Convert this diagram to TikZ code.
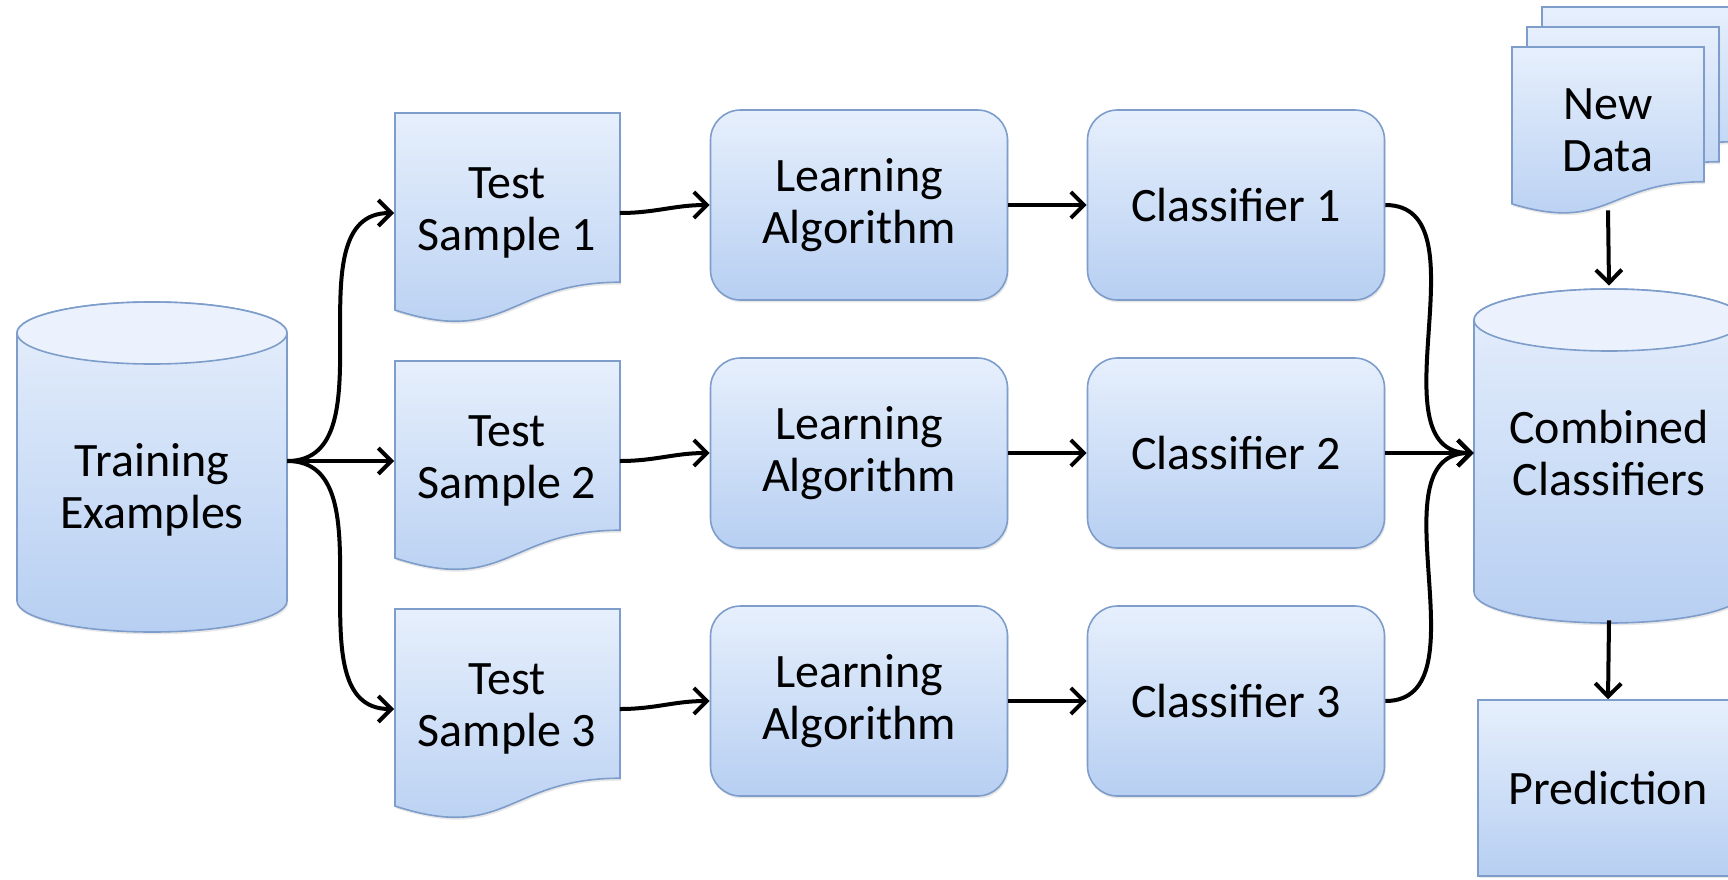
\documentclass[tikz,border=0pt]{standalone}
\usepackage{fontspec}
\setmainfont{Carlito}
\usetikzlibrary{arrows.meta,shadows}

\definecolor{boxtop}{HTML}{E6EFFC}
\definecolor{boxbot}{HTML}{B7CFF2}
\definecolor{boxline}{HTML}{7E9DCA}
\definecolor{captop}{HTML}{EBF2FD}

\tikzset{
  shapefill/.style={draw=boxline, line width=0.8pt, top color=boxtop, bottom color=boxbot,
    drop shadow={opacity=0.18, shadow xshift=0.6pt, shadow yshift=-1.2pt}},
  txt/.style={font=\fontsize{24}{26}\selectfont, align=center, inner sep=0pt},
  box/.style={shapefill, txt, rounded corners=15pt, minimum width=148.5pt, minimum height=95pt},
  flow/.style={line width=2pt, -{Straight Barb[length=6.5pt,width=13pt]}}
}

% x, y (top), width, height
\newcommand{\docshape}[4]{%
  \path[shapefill] (#1,#2) -- ({#1+#3},#2) -- ({#1+#3},{#2+0.802*#4})
    .. controls ({#1+0.5*#3},{#2+0.802*#4}) and ({#1+0.5*#3},{#2+1.107*#4}) .. (#1,{#2+0.934*#4}) -- cycle;}

% centre x, top y, bottom y, x radius, y radius
\newcommand{\dbshape}[5]{%
  \path[shapefill] ({#1-#4},#2) -- ({#1-#4},#3)
    arc[start angle=180, end angle=360, x radius={#4*0.5pt}, y radius={#5*0.5pt}]
    -- ({#1+#4},#2)
    arc[start angle=0, end angle=180, x radius={#4*0.5pt}, y radius={#5*0.5pt}] -- cycle;
  \path[draw=boxline, line width=0.8pt, fill=captop] (#1,#2) ellipse[x radius={#4*0.5pt}, y radius={#5*0.5pt}];}

\begin{document}
\begin{tikzpicture}[x=0.5pt, y=-0.5pt]
    \useasboundingbox (0,0) rectangle (1728,879);
    \clip (0,0) rectangle (1728,879);

    \dbshape{152}{333}{601}{135}{31}
    \dbshape{1609}{320}{592}{135}{31}
    \docshape{395}{113}{225}{211}
    \docshape{395}{361}{225}{211}
    \docshape{395}{609}{225}{211}
    \docshape{1542}{7}{192}{168}
    \docshape{1527}{27}{192}{168}
    \docshape{1512}{47}{192}{168}

    \node[txt, minimum width=135pt] (te) at (152,490) {Training\\Examples};
    \node[txt, minimum width=112.5pt, minimum height=85pt] (ts1) at (507,213) {Test\\Sample 1};
    \node[txt, minimum width=112.5pt, minimum height=85pt] (ts2) at (507,461) {Test\\Sample 2};
    \node[txt, minimum width=112.5pt, minimum height=85pt] (ts3) at (507,709) {Test\\Sample 3};
    \node[box] (la1) at (859,205) {Learning\\Algorithm};
    \node[box] (la2) at (859,453) {Learning\\Algorithm};
    \node[box] (la3) at (859,701) {Learning\\Algorithm};
    \node[box] (cl1) at (1236,205) {Classifier 1};
    \node[box] (cl2) at (1236,453) {Classifier 2};
    \node[box] (cl3) at (1236,701) {Classifier 3};
    \node[txt, minimum width=135pt, minimum height=167pt] (cc) at (1609,453) {Combined\\Classifiers};
    \node[txt, minimum width=96pt, minimum height=80pt] (nd) at (1608,130) {New\\Data};
    \node[shapefill, txt, minimum width=130pt, minimum height=88pt] (pr) at (1608,788) {Prediction};

    \draw[flow] (te.east |- ts2.west) to[out=0,in=180] (ts1.west);
    \draw[flow] (te.east |- ts2.west) -- (ts2.west);
    \draw[flow] (te.east |- ts2.west) to[out=0,in=180] (ts3.west);
    \draw[flow] (ts1.east) to[out=0,in=180] (la1.west);
    \draw[flow] (ts2.east) to[out=0,in=180] (la2.west);
    \draw[flow] (ts3.east) to[out=0,in=180] (la3.west);
    \draw[flow] (la1) -- (cl1);
    \draw[flow] (la2) -- (cl2);
    \draw[flow] (la3) -- (cl3);
    \draw[flow] (cl1.east) to[out=0,in=180] (cc.west);
    \draw[flow] (cl2.east) -- (cc.west);
    \draw[flow] (cl3.east) to[out=0,in=180] (cc.west);
    \draw[flow] (nd.south) -- (cc.north);
    \draw[flow] (cc.south) -- (pr.north);
\end{tikzpicture}
\end{document}
